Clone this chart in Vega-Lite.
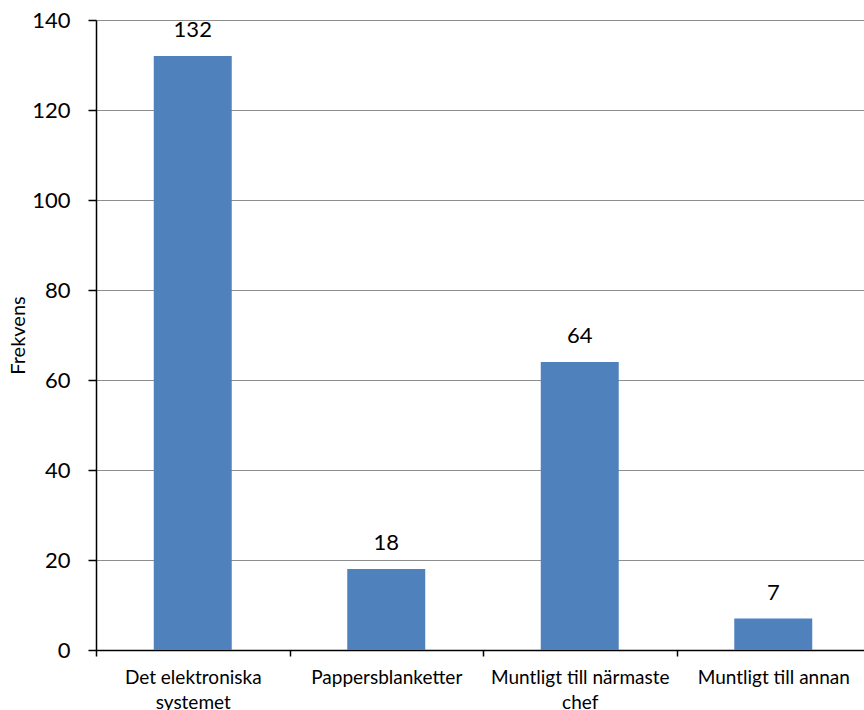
{
  "$schema": "https://vega.github.io/schema/vega-lite/v6.json",
  "width": 768,
  "height": 630,
  "autosize": {"type": "none"},
  "padding": {"left": 96, "top": 20, "right": 0, "bottom": 60},
  "background": "white",
  "config": {
    "view": {"stroke": null},
    "font": "Lato"
  },
  "data": {
    "values": [
      {"kanal": "Det elektroniska systemet", "frekvens": 132},
      {"kanal": "Pappersblanketter", "frekvens": 18},
      {"kanal": "Muntligt till närmaste chef", "frekvens": 64},
      {"kanal": "Muntligt till annan", "frekvens": 7}
    ]
  },
  "encoding": {
    "x": {
      "field": "kanal",
      "type": "nominal",
      "sort": null,
      "scale": {"paddingInner": 0, "paddingOuter": 0, "range": [0, 774]},
      "axis": {
        "title": null,
        "labelAngle": 0,
        "labelFont": "Lato",
        "labelFontSize": 19,
        "labelColor": "black",
        "labelPadding": 12,
        "labelLineHeight": 25,
        "labelBaseline": "top",
        "labelExpr": "datum.value == 'Det elektroniska systemet' ? ['Det elektroniska', 'systemet'] : datum.value == 'Muntligt till närmaste chef' ? ['Muntligt till närmaste', 'chef'] : datum.value",
        "tickBand": "extent",
        "tickSize": 6,
        "tickColor": "black",
        "tickWidth": 1.5,
        "domainColor": "black",
        "domainWidth": 1.5,
        "grid": false
      }
    }
  },
  "layer": [
    {
      "mark": {"type": "bar", "color": "#4F81BD", "width": {"band": 0.403}},
      "encoding": {
        "y": {
          "field": "frekvens",
          "type": "quantitative",
          "scale": {"domain": [0, 140], "nice": false},
          "axis": {
            "title": "Frekvens",
            "titleFont": "Lato",
            "titleFontSize": 20,
            "titleFontWeight": "normal",
            "titleColor": "black",
            "titleX": -78,
            "titleY": 315,
            "titleAngle": 270,
            "titleAlign": "center",
            "titleBaseline": "middle",
            "values": [0, 20, 40, 60, 80, 100, 120, 140],
            "labelFont": "Lato",
            "labelFontSize": 22,
            "labelColor": "black",
            "labelPadding": 18,
            "tickSize": 8,
            "tickColor": "black",
            "tickWidth": 1.5,
            "domainColor": "black",
            "domainWidth": 1.5,
            "grid": true,
            "gridColor": "#8e8e8e",
            "gridWidth": 1
          }
        }
      }
    },
    {
      "mark": {"type": "text", "font": "Lato", "fontSize": 22, "color": "black", "baseline": "alphabetic", "dy": -19},
      "encoding": {
        "y": {"field": "frekvens", "type": "quantitative"},
        "text": {"field": "frekvens", "type": "quantitative"}
      }
    }
  ]
}
